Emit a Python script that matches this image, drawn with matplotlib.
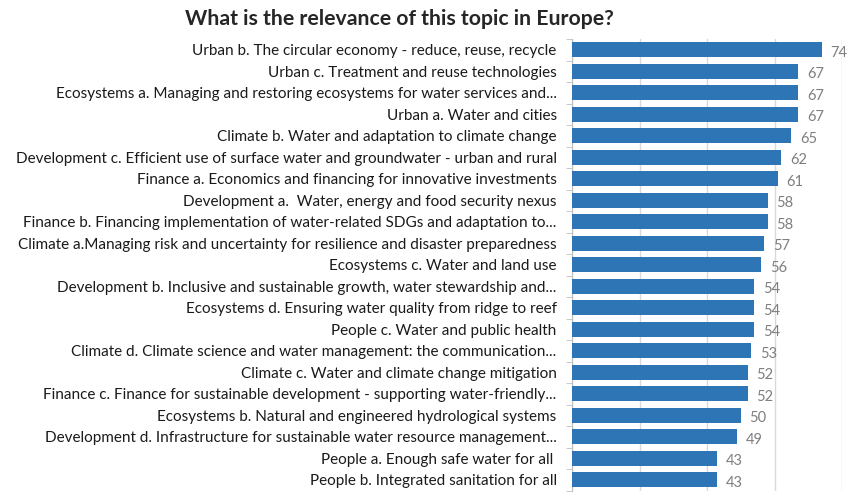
import matplotlib.pyplot as plt
import numpy as np

topics = [
    'Urban b. The circular economy - reduce, reuse, recycle',
    'Urban c. Treatment and reuse technologies',
    'Ecosystems a. Managing and restoring ecosystems for water services and...',
    'Urban a. Water and cities',
    'Climate b. Water and adaptation to climate change',
    'Development c. Efficient use of surface water and groundwater - urban and rural',
    'Finance a. Economics and financing for innovative investments',
    'Development a.  Water, energy and food security nexus',
    'Finance b. Financing implementation of water-related SDGs and adaptation to...',
    'Climate a.Managing risk and uncertainty for resilience and disaster preparedness',
    'Ecosystems c. Water and land use',
    'Development b. Inclusive and sustainable growth, water stewardship and...',
    'Ecosystems d. Ensuring water quality from ridge to reef',
    'People c. Water and public health',
    'Climate d. Climate science and water management: the communication...',
    'Climate c. Water and climate change mitigation',
    'Finance c. Finance for sustainable development - supporting water-friendly...',
    'Ecosystems b. Natural and engineered hydrological systems',
    'Development d. Infrastructure for sustainable water resource management...',
    'People a. Enough safe water for all ',
    'People b. Integrated sanitation for all',
]
scores = [74, 67, 67, 67, 65, 62, 61, 58, 58, 57, 56, 54, 54, 54, 53, 52, 52, 50, 49, 43, 43]

plt.rcParams['font.family'] = ['Lato', 'DejaVu Sans']

fig = plt.figure(figsize=(8.5, 4.92), dpi=100)
ax = fig.add_axes([572 / 850, 1 - 490.5 / 492, 270 / 850, 451.5 / 492])

y = np.arange(len(topics))
ax.barh(y, scores, height=0.72, color='#2E75B6', zorder=3)
ax.set_ylim(len(topics) - 0.5, -0.5)
ax.set_xlim(0, 80)
ax.set_xticks([0, 20, 40, 60, 80])
ax.set_xticklabels([])
ax.tick_params(axis='x', length=0)
ax.grid(axis='x', color='#D9D9D9', linewidth=1, zorder=0)

# labels on the categories, small ticks between them (like Excel)
ax.set_yticks(y)
ax.set_yticklabels(topics, fontsize=11, color='#1a1a1a')
ax.set_yticks(np.arange(len(topics) + 1) - 0.5, minor=True)
ax.tick_params(axis='y', which='major', length=0, pad=11)
ax.tick_params(axis='y', which='minor', length=4, color='#BFBFBF')

for s in ['top', 'right', 'bottom']:
    ax.spines[s].set_visible(False)
ax.spines['left'].set_color('#BFBFBF')

for yi, v in zip(y, scores):
    ax.text(v + 2.6, yi + 0.15, str(v), va='center', ha='left', fontsize=10.5, color='#7F7F7F')

fig.text(0.47, 1 - 19 / 492, 'What is the relevance of this topic in Europe?',
         ha='center', va='center', fontsize=15.3, fontweight='bold', color='#262626')

plt.savefig('out.png', dpi=100)
